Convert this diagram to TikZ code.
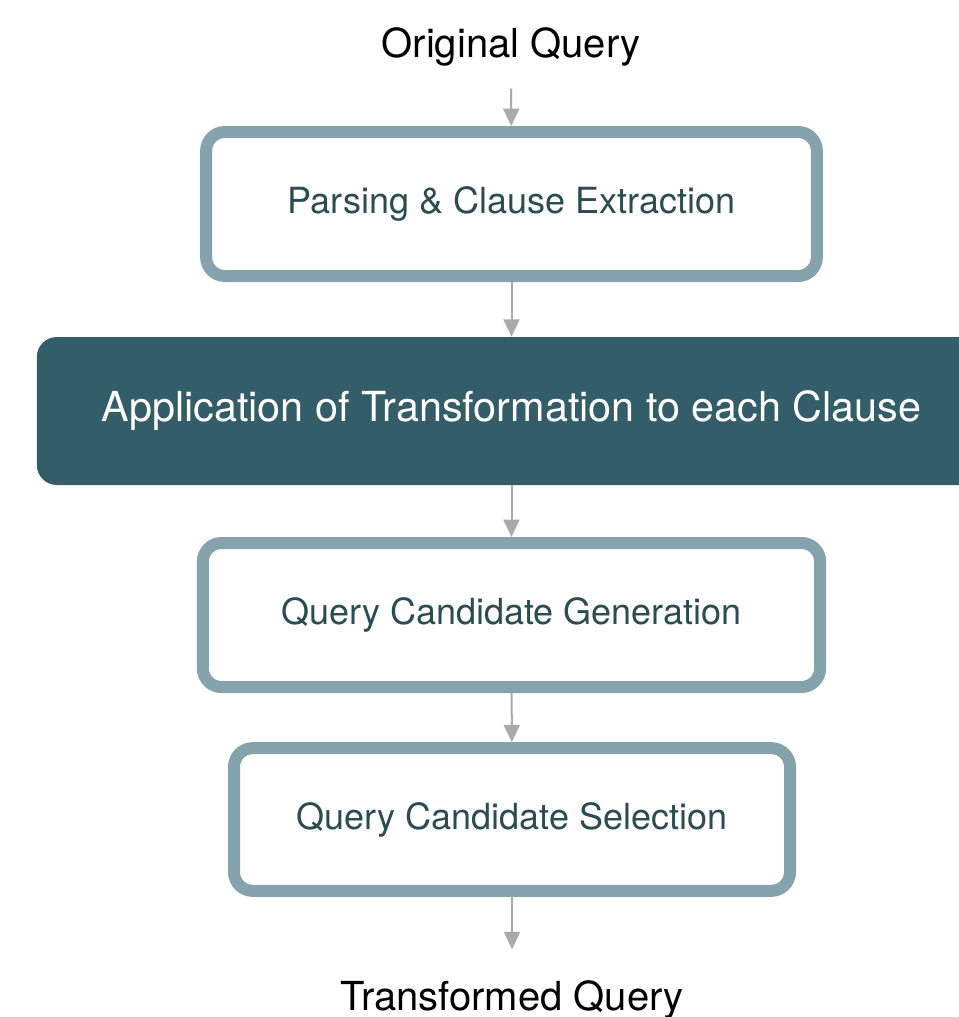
\documentclass[tikz,border=0pt]{standalone}
\usepackage{fontspec}
\setmainfont{TeX Gyre Heros}
\usetikzlibrary{arrows.meta}
\definecolor{frameblue}{HTML}{84A3AC}
\definecolor{darkteal}{HTML}{335D69}
\definecolor{labelteal}{HTML}{2B4C52}
\definecolor{arrowgray}{HTML}{AAAAAA}

\begin{document}
\begin{tikzpicture}[
  x=0.75pt, y=-0.75pt,
  stage/.style={draw=frameblue, line width=9pt, fill=white, rounded corners=14pt,
                text=labelteal, font=\fontsize{27}{32}\selectfont, inner sep=0pt},
  core/.style={fill=darkteal, rounded corners=15pt, text=white,
               font=\fontsize{31}{37}\selectfont, inner sep=0pt},
  endpoint/.style={font=\fontsize{30}{36}\selectfont, inner sep=0pt},
  flow/.style={draw=arrowgray, line width=1.5pt, -{Triangle[length=13pt,width=12pt]}}
]
\useasboundingbox (0,0) rectangle (959,1017);
\node[endpoint, anchor=base] (orig) at (511,57) {Original Query};
\node[stage, minimum width=458pt, minimum height=108pt] (parse) at (511.5,204) {Parsing \& Clause Extraction};
\node[core, minimum width=712pt, minimum height=111pt] (apply) at (511.5,411) {Application of Transformation to each Clause};
\node[stage, minimum width=463pt, minimum height=108pt] (gen) at (511.5,615) {Query Candidate Generation};
\node[stage, minimum width=417pt, minimum height=107pt] (select) at (512,819.5) {Query Candidate Selection};
\node[endpoint, anchor=base] (result) at (512,1010) {Transformed Query};
\draw[flow, shorten <=17pt] (orig) -- (parse);
\draw[flow] (parse) -- (apply);
\draw[flow] (apply) -- (gen);
\draw[flow] (gen) -- (select);
\draw[flow, shorten >=23pt] (select) -- (result);
\end{tikzpicture}
\end{document}
